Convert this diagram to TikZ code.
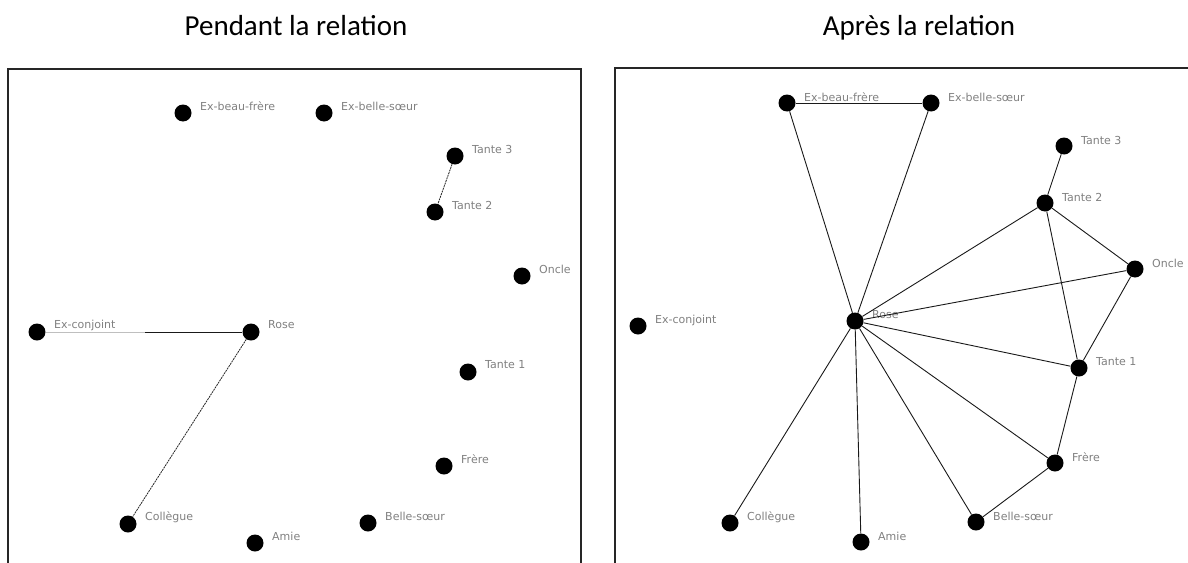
\documentclass[tikz,border=0pt]{standalone}
\usepackage{fontspec}
\newfontfamily\titlefont{Carlito}
\newfontfamily\namefont{DejaVu Sans}

\begin{document}
\begin{tikzpicture}[x=1pt,y=-1pt,
		dot/.style={circle,fill=black,inner sep=0pt,minimum size=17pt},
		lbl/.style={anchor=west,inner sep=0pt,text=black!50,font=\namefont\fontsize{11}{13}\selectfont},
		edge/.style={draw=black!90,line width=0.9pt},
		faint/.style={draw=black!85,line width=0.8pt,dash pattern=on 2pt off 0.8pt},
		frame/.style={draw=black!85,line width=1.2pt},
		title/.style={anchor=base,font=\titlefont\fontsize{29}{34}\selectfont}]
	\useasboundingbox (0,0) rectangle (1188,562);

	% titles and frames
	\node[title] (t-p) at (296,35) {Pendant la relation};
	\node[title] (t-a) at (919,35) {Après la relation};
	\draw[frame] (8,575) |- (581,69) -- (581,575);
	\draw[frame] (615,575) |- (1200,68);

	% pendant la relation
	\foreach \n/\x/\y/\t in {exbf/183/113/Ex-beau-frère, exbs/324/113/Ex-belle-sœur,
			t3/455/156/Tante 3, t2/435/212/Tante 2, oncle/522/276/Oncle,
			exconj/37/332/Ex-conjoint, rose/251/332/Rose, t1/468/372/Tante 1,
			frere/444/466/Frère, coll/128/524/Collègue, amie/255/543/Amie,
			bs/368/523/Belle-sœur}{
			\node[dot] (p-\n) at (\x,\y) {};
			\node[lbl] (p-\n-l) at ([shift={(17,-7)}]p-\n) {\t};
		}
	\coordinate (p-fade) at (145,332);
	\draw[edge,draw=black!25] (p-exconj) -- (p-fade);
	\draw[edge] (p-fade) -- (p-rose);
	\draw[faint] (p-rose) -- (p-coll);
	\draw[faint] (p-t3) -- (p-t2);

	% apres la relation
	\foreach \n/\x/\y/\t in {exbf/787/103/Ex-beau-frère, exbs/931/103/Ex-belle-sœur,
			t3/1064/146/Tante 3, t2/1045/203/Tante 2, oncle/1135/269/Oncle,
			exconj/638/326/Ex-conjoint, rose/855/321/Rose, t1/1079/368/Tante 1,
			frere/1055/463/Frère, coll/730/523/Collègue, amie/861/542/Amie,
			bs/976/522/Belle-sœur}{
			\node[dot] (a-\n) at (\x,\y) {};
			\node[lbl] (a-\n-l) at ([shift={(17,-6)}]a-\n) {\t};
		}
	\foreach \a/\b in {exbf/exbs, exbf/rose, exbs/rose, t3/t2, t2/rose, t2/oncle,
			t2/t1, oncle/rose, oncle/t1, rose/t1, t1/frere, rose/frere,
			rose/bs, frere/bs, rose/coll, rose/amie}{
			\draw[edge] (a-\a) -- (a-\b);
		}
\end{tikzpicture}
\end{document}
